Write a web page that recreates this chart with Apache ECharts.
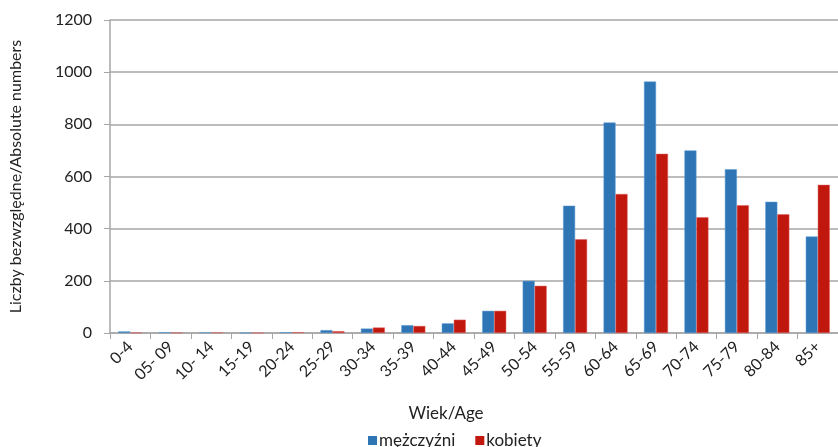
<!DOCTYPE html>
<html>
<head>
<meta charset="utf-8">
<script src="https://cdn.jsdelivr.net/npm/echarts@6/dist/echarts.min.js"></script>
<style>
html,body{margin:0;padding:0;background:#fff;}
#chart{width:838px;height:447px;}
</style>
</head>
<body>
<div id="chart"></div>
<script>
const categories = ['0-4','05- 09','10- 14','15-19','20-24','25-29','30-34','35-39','40-44','45-49','50-54','55-59','60-64','65-69','70-74','75-79','80-84','85+'];
const men   = [6, 3, 2, 0, 3, 11, 17, 30, 37, 85, 200, 488, 807, 964, 700, 628, 503, 370];
const women = [1, 1, 2, 0, 3, 7, 21, 27, 51, 85, 181, 359, 533, 687, 444, 490, 455, 568];
const yTicks = [0, 200, 400, 600, 800, 1000, 1200];
const seriesNames = ['mężczyźni', 'kobiety'];

const font = 'Lato, "Open Sans", sans-serif';
const chart = echarts.init(document.getElementById('chart'), null, {renderer: 'canvas'});
chart.setOption({
  animation: false,
  textStyle: {fontFamily: font},
  grid: {left: 108, right: -6, top: 20, bottom: 114, containLabel: false},
  legend: {
    data: seriesNames,
    left: 363, top: 427,
    itemWidth: 9, itemHeight: 9, itemGap: 20,
    icon: 'rect',
    itemStyle: {borderWidth: 0},
    textStyle: {fontSize: 17, color: '#222', fontFamily: font, padding: [0,0,0,-3]}
  },
  xAxis: {
    type: 'category',
    data: categories,
    name: 'Wiek/Age',
    nameLocation: 'middle',
    nameGap: 72,
    nameTextStyle: {fontSize: 17, color: '#222', fontFamily: font, padding: [0, 56, 0, 0]},
    axisLine: {lineStyle: {color: '#a6a6a6', width: 1.5}},
    axisTick: {show: true, alignWithLabel: false, length: 6, lineStyle: {color: '#a6a6a6'}},
    axisLabel: {rotate: 45, fontSize: 16, color: '#222', margin: 11, interval: 0, fontFamily: font}
  },
  yAxis: {
    type: 'value',
    min: yTicks[0], max: yTicks[yTicks.length-1], interval: 200,
    name: 'Liczby bezwzględne/Absolute numbers',
    nameLocation: 'middle',
    nameGap: 86,
    nameTextStyle: {fontSize: 16, color: '#222', fontFamily: font},
    axisLine: {show: true, lineStyle: {color: '#a6a6a6', width: 1.5}},
    axisTick: {show: true, length: 6, lineStyle: {color: '#a6a6a6'}},
    axisLabel: {fontSize: 16, color: '#222', margin: 18, fontFamily: font, formatter: v => String(v)},
    splitLine: {lineStyle: {color: '#a6a6a6', width: 1.5}}
  },
  series: [
    {name: seriesNames[0], type: 'bar', data: men, barWidth: 12, barGap: '0%',
     itemStyle: {color: '#2E75B6', borderColor: '#5b9bd5', borderWidth: 0.5}},
    {name: seriesNames[1], type: 'bar', data: women, barWidth: 12,
     itemStyle: {color: '#C0180C', borderColor: '#e06060', borderWidth: 0.5}}
  ]
});
</script>
</body>
</html>
